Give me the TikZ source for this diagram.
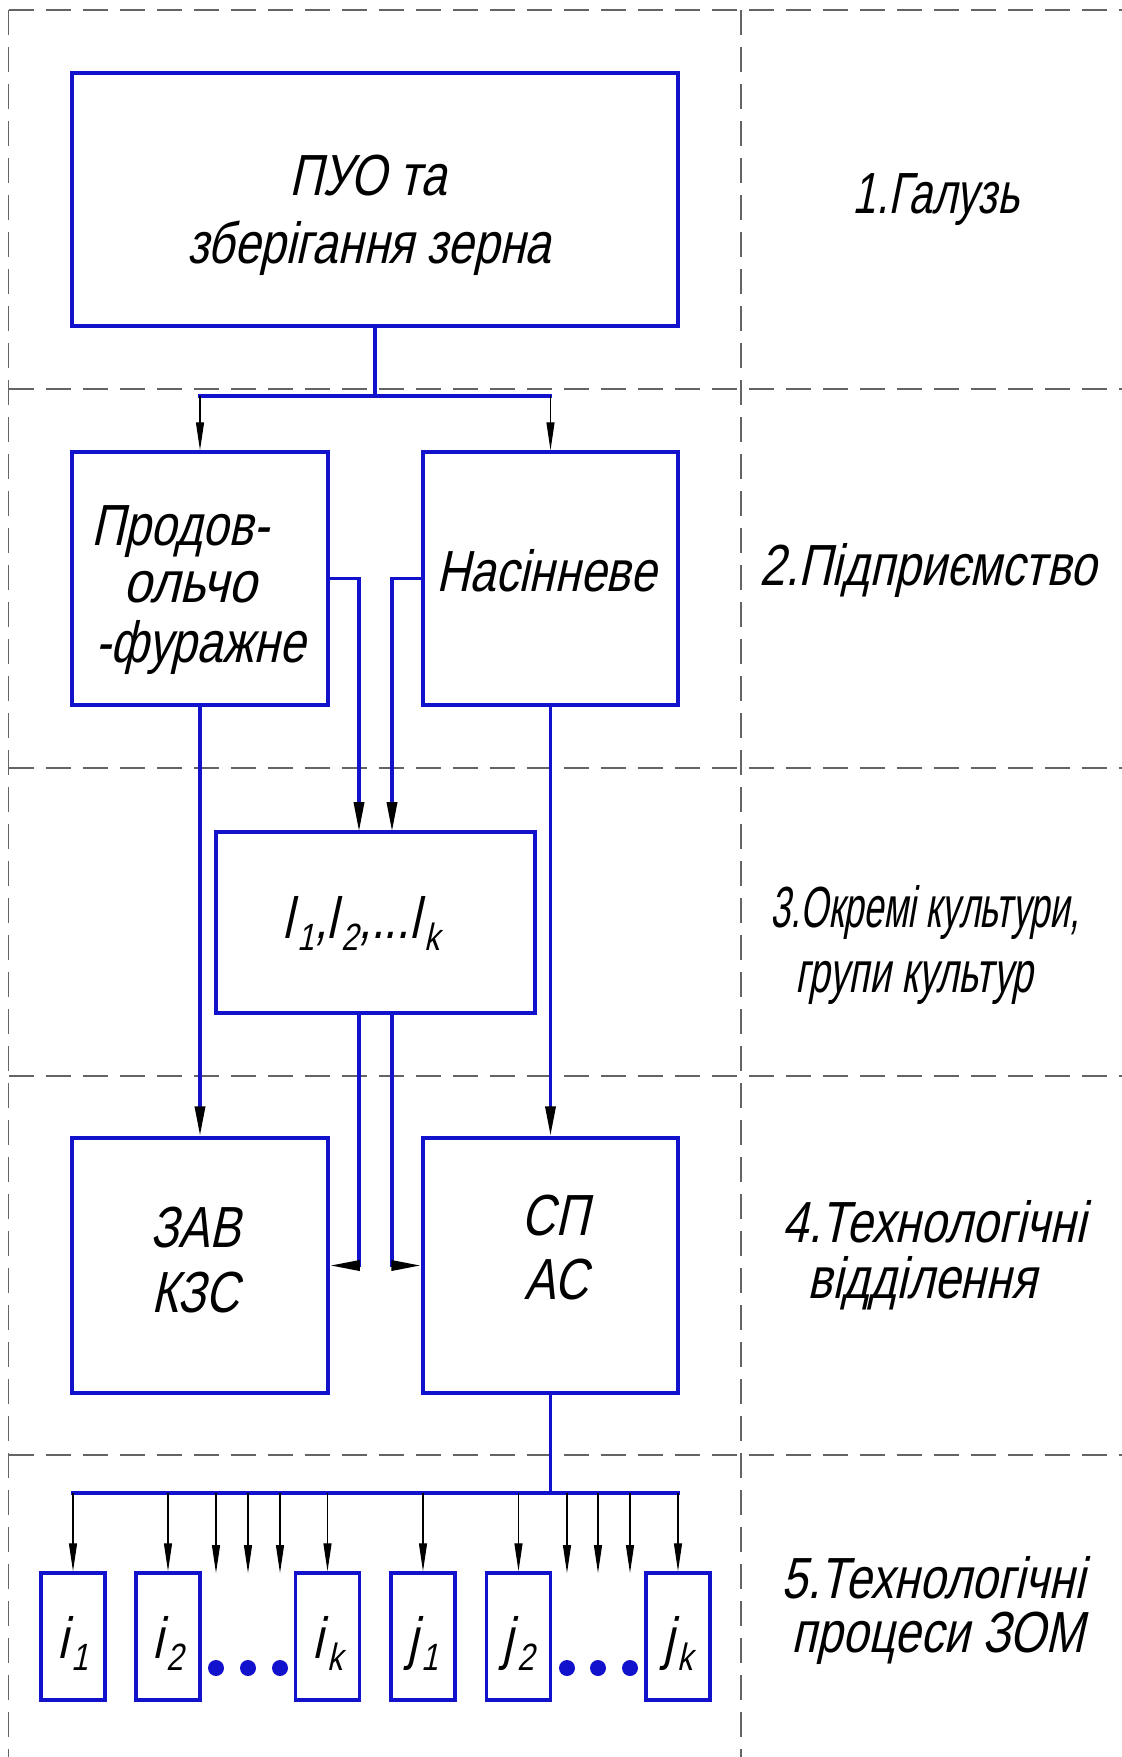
\documentclass[tikz,border=0pt]{standalone}
\usepackage{graphicx}
\usepackage{fontspec}
\setmainfont{Liberation Sans}[FakeStretch=0.8,FakeSlant=0.22]
\usetikzlibrary{arrows.meta,calc}
\definecolor{bl}{RGB}{18,18,205}
\definecolor{dg}{RGB}{100,100,100}
\newcommand\gfont{\fontsize{58}{66}\selectfont}
\newcommand\sbs[1]{\kern4pt\raisebox{-0.4ex}{\fontsize{38}{38}\selectfont #1}}
\newcommand\hsq[2]{\scalebox{#1}[1]{#2}}
\tikzset{
  gridline/.style={draw=dg, line width=1.3pt, dash pattern=on 25pt off 12pt},
  box/.style={draw=bl, line width=3.5pt, rectangle, inner sep=0pt},
  bline/.style={draw=bl, line width=3.5pt},
  barrow/.style={bline, -{Triangle[length=30pt,width=10pt,color=black,fill=black]}},
  tarrow/.style={draw=black, line width=1.2pt, -{Triangle[length=28pt,width=8pt]}},
  lbl/.style={anchor=base, inner sep=0pt, font=\gfont},
  dot/.style={fill=bl},
}
\begin{document}
\begin{tikzpicture}[x=1pt,y=-1pt]
\path[use as bounding box, fill=white] (0,0) rectangle (1122,1757);
% dashed grid
\draw[gridline] (8.6,10) -- (8.6,1757);
\draw[gridline] (741,10) -- (741,1757);
\foreach \yy in {10,389,768,1076,1455}{\draw[gridline] (8.6,\yy) -- (1122,\yy);}
% boxes
\node[box, minimum width=606pt, minimum height=253pt] (b1) at (375,199.5) {};
\node[box, minimum width=256pt, minimum height=253pt] (b2l) at (200,578.5) {};
\node[box, minimum width=255pt, minimum height=253pt] (b2r) at (550.5,578.5) {};
\node[box, minimum width=319pt, minimum height=181pt] (lb) at (375.5,922.5) {};
\node[box, minimum width=256pt, minimum height=255pt] (zav) at (200,1265.5) {};
\node[box, minimum width=255pt, minimum height=255pt] (sp) at (550.5,1265.5) {};
\foreach \nm/\xx in {i1/73,i2/168,ik/327.5,j1/423,j2/518.5,jk/678}{
  \node[box, minimum width=64pt, minimum height=127pt] (\nm) at (\xx,1636.5) {};
}
% texts in boxes
\node[lbl] (t1a) at (368,195) {ПУО та};
\node[lbl] (t1b) at (369,263) {зберігання зерна};
\node[lbl] (t2a) at (180,545) {Продов-};
\node[lbl] (t2b) at (190,602) {\hsq{1.08}{ольчо}};
\node[lbl] (t2c) at (200,662) {-фуражне};
\node[lbl] (t3) at (546,591) {Насінневе};
\node[lbl] (t4) at (361,938) {l\sbs{1},l\sbs{2},...l\sbs{k}};
\node[lbl] (t5a) at (195,1247) {ЗАВ};
\node[lbl] (t5b) at (195,1312) {КЗС};
\node[lbl] (t6a) at (555,1235) {СП};
\node[lbl] (t6b) at (556,1299) {АС};
\node[lbl] (ti1) at (i1.center |- 0,1658) {i\sbs{1}};
\node[lbl] (ti2) at (i2.center |- 0,1658) {i\sbs{2}};
\node[lbl] (tik) at (ik.center |- 0,1658) {i\sbs{k}};
\node[lbl] (tj1) at (j1.center |- 0,1658) {j\sbs{1}};
\node[lbl] (tj2) at (j2.center |- 0,1658) {j\sbs{2}};
\node[lbl] (tjk) at (jk.center |- 0,1658) {j\sbs{k}};
% level labels
\node[lbl] (l1) at (936,213) {\hsq{0.91}{1.Галузь}};
\node[lbl] (l2) at (928,585) {2.Підприємство};
\node[lbl] (l3a) at (925,927) {\hsq{0.77}{3.Окремі культури,}};
\node[lbl] (l3b) at (914,992) {\hsq{0.82}{групи культур}};
\node[lbl] (l4a) at (934,1242) {4.Технологічні};
\node[lbl] (l4b) at (922,1298) {відділення};
\node[lbl] (l5a) at (933,1598) {5.Технологічні};
\node[lbl] (l5b) at (938,1652) {процеси ЗОМ};
% top bus
\coordinate (bus1) at (375,396);
\coordinate (bus1l) at (200,396);
\coordinate (bus1r) at (550.5,396);
\draw[bline] (b1.south) -- (bus1);
\draw[bline] ([xshift=-1.75pt]bus1l) -- ([xshift=1.75pt]bus1r);
\draw[tarrow] (bus1l) -- (b2l.north);
\draw[tarrow] (bus1r) -- (b2r.north);
% to l box
\coordinate (lin1) at (359,832);
\coordinate (lin2) at (392,832);
\draw[barrow] (b2l.east) -| (lin1);
\draw[barrow] (b2r.west) -| (lin2);
% from l box
\coordinate (lo1) at (359,1013);
\coordinate (lo2) at (392,1013);
\draw[barrow] (lo1) |- (zav.east);
\draw[barrow] (lo2) |- (sp.west);
% side down lines
\draw[barrow] (b2l.south) -- (zav.north);
\draw[barrow] (b2r.south) -- (sp.north);
% bottom bus
\coordinate (bus2) at (550.5,1493);
\coordinate (bus2l) at (73,1493);
\coordinate (bus2r) at (678,1493);
\draw[bline] (sp.south) -- (bus2);
\draw[bline] ([xshift=-1.75pt]bus2l) -- ([xshift=1.75pt]bus2r);
\foreach \nm in {i1,i2,ik,j1,j2,jk}{
  \draw[tarrow] (\nm.north |- bus2) -- (\nm.north);
}
\foreach \xx [count=\k] in {216,248,280,567,598,630}{
  \coordinate (fa\k) at (\xx,1573);
  \draw[tarrow] (fa\k |- bus2) -- (fa\k);
}
% dots
\foreach \xx in {216,248,280,567,598,630}{
  \fill[dot] (\xx,1668) circle (8pt);
}
\end{tikzpicture}
\end{document}
